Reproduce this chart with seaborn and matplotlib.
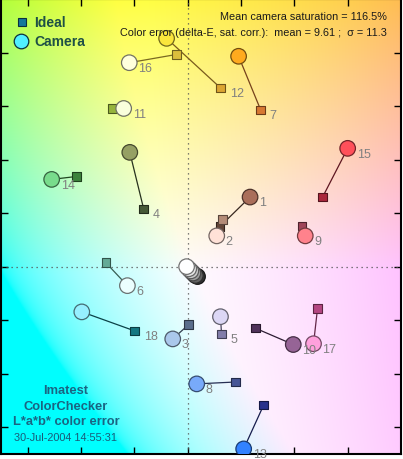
import numpy as np
import pandas as pd
import matplotlib
matplotlib.use("Agg")
import matplotlib.pyplot as plt
import seaborn as sns

# ColorChecker patches 1..24, a*/b* values
patches = [str(i) for i in range(1, 25)]
cam_a = [23.4, 10.9, -5.6, -21.7, 12.3, -22.6, 19.1, 3.4, 44.1, 39.6, -24.0, -7.9,
         21.0, -51.0, 60.0, -21.9, 47.2, -39.7, -0.4, 0.4, 1.2, 2.0, 2.9, 3.7]
cam_b = [26.0, 11.5, -27.0, 42.7, -18.7, -7.1, 78.6, -43.8, 11.5, -29.1, 59.1, 85.3,
         -68.1, 32.6, 44.2, 76.2, -28.8, -16.9, 0.0, -0.8, -1.6, -2.4, -3.3, -3.7]
ideal_a = [12.1, 13.1, 0.3, -16.5, 12.7, -30.7, 27.4, 18.0, 42.9, 25.4, -28.1, 12.4,
           28.5, -41.6, 50.6, -4.1, 48.7, -19.9, 0.0, 0.0, 0.0, 0.0, 0.0, 0.0]
ideal_b = [15.0, 17.7, -21.7, 21.6, -25.1, 1.5, 58.5, -43.1, 15.2, -23.0, 59.0, 66.7,
           -51.7, 33.7, 26.0, 79.3, -15.6, -24.0, 0.0, 0.0, 0.0, 0.0, 0.0, 0.0]
cam_colors = ['#aa6e5a', '#ffe1d7', '#aac8eb', '#96a064', '#dcd7f5', '#ebffff',
              '#ffaa1e', '#78aafa', '#ff828c', '#966496', '#faffdc', '#fae63c',
              '#3282ff', '#78dc8c', '#ff505a', '#ffffdc', '#ffa0dc', '#96f0ff',
              '#ffffff', '#e6e6e6', '#c8c8c8', '#a0a0a0', '#646464', '#323232']
ideal_colors = ['#644638', '#b48c78', '#5a6e8c', '#465a37', '#827daa', '#64aa96',
                '#d77832', '#465596', '#a0465a', '#50325a', '#96b43c', '#dca532',
                '#28328c', '#3c823c', '#aa283c', '#dcbe3c', '#b44682', '#147882',
                '#f3f3f2', '#c8c8c8', '#a0a0a0', '#7a7a79', '#555555', '#343434']
# which marker carries the number label: camera, ideal or none
label_at = ['c', 'c', 'c', 'i', 'i', 'c', 'i', 'c', 'c', 'c', 'c', 'i',
            'c', 'c', 'c', 'c', 'c', 'i', '', '', '', '', '', '']

title_lines = ["Mean camera saturation = 116.5%",
               "Color error (delta-E, sat. corr.):  mean = 9.61 ;  \u03c3 = 11.3"]
stamp_lines = ["Imatest", "ColorChecker", "L*a*b* color error"]
stamp_date = "30-Jul-2004 14:55:31"

xlim = (-70, 80)
ylim = (-70, 100)

sns.set_style("white")
plt.rcParams['font.family'] = ['Liberation Sans', 'DejaVu Sans']


def darken(hexcol, f):
    rgb = np.array(matplotlib.colors.to_rgb(hexcol))
    return tuple(rgb * f)


def lab_background(L, k, n=300):
    a = np.linspace(xlim[0], xlim[1], n) * k
    b = np.linspace(ylim[0], ylim[1], n) * k
    A, B = np.meshgrid(a, b)
    fy = (L + 16) / 116
    fx = fy + A / 500
    fz = fy - B / 200

    def finv(t):
        return np.where(t > 6 / 29, t ** 3, 3 * (6 / 29) ** 2 * (t - 4 / 29))
    X = 0.9505 * finv(fx)
    Y = finv(np.full_like(A, fy))
    Z = 1.089 * finv(fz)
    R = 3.2406 * X - 1.5372 * Y - 0.4986 * Z
    G = -0.9689 * X + 1.8758 * Y + 0.0415 * Z
    Bl = 0.0557 * X - 0.2040 * Y + 1.0570 * Z
    rgb = np.clip(np.dstack([R, G, Bl]), 0, 1)
    rgb = np.where(rgb <= 0.0031308, 12.92 * rgb, 1.055 * rgb ** (1 / 2.4) - 0.055)
    return np.clip(rgb, 0, 1)


df = pd.DataFrame({'patch': patches, 'cam_a': cam_a, 'cam_b': cam_b,
                   'ideal_a': ideal_a, 'ideal_b': ideal_b})

fig = plt.figure(figsize=(4.03, 4.6), dpi=100)
ax = fig.add_axes([1 / 403, 5 / 460, 400 / 403, 455 / 460])

ax.imshow(lab_background(98.5, 0.85), extent=[xlim[0], xlim[1], ylim[0], ylim[1]],
          origin='lower', aspect='auto', zorder=0, interpolation='bilinear')

ax.axvline(0, color='#555555', ls=(0, (1, 3)), lw=0.9, zorder=1)
ax.axhline(0, color='#555555', ls=(0, (1, 3)), lw=0.9, zorder=1)

for i, row in df.iterrows():
    ax.plot([row.cam_a, row.ideal_a], [row.cam_b, row.ideal_b],
            color=darken(ideal_colors[i], 0.55), lw=0.9, zorder=2)

sns.scatterplot(data=df, x='ideal_a', y='ideal_b', hue='patch',
                palette=dict(zip(patches, ideal_colors)), marker='s', s=38,
                edgecolor=[darken(c, 0.5) for c in ideal_colors], linewidth=0.8,
                legend=False, ax=ax, zorder=3)
sns.scatterplot(data=df[::-1], x='cam_a', y='cam_b', hue='patch',
                palette=dict(zip(patches, cam_colors)), marker='o', s=125,
                edgecolor=[darken(c, 0.45) for c in cam_colors[::-1]], linewidth=0.9,
                legend=False, ax=ax, zorder=4)

for i, row in df.iterrows():
    if label_at[i] == 'c':
        xy = (row.cam_a, row.cam_b)
    elif label_at[i] == 'i':
        xy = (row.ideal_a, row.ideal_b)
    else:
        continue
    ax.annotate(row.patch, xy, xytext=(6.5, -3.8), textcoords='offset points',
                ha='left', va='center', fontsize=9, color='#808080', zorder=5,
                annotation_clip=False)

# legend
ax.plot([20.7 / 400], [1 - 22.7 / 455], marker='s', ms=6, color='#14789a',
        mec='#0a3040', mew=0.8, transform=ax.transAxes, zorder=6)
ax.plot([20 / 400], [1 - 41.7 / 455], marker='o', ms=10.5, color='#50f0ff',
        mec='#0a3040', mew=0.9, transform=ax.transAxes, zorder=6)
ax.text(33 / 400, 1 - 22.7 / 455, "Ideal", transform=ax.transAxes, fontsize=10,
        fontweight='bold', color='#1e5046', ha='left', va='center', zorder=6)
ax.text(33 / 400, 1 - 41.7 / 455, "Camera", transform=ax.transAxes, fontsize=10,
        fontweight='bold', color='#1e5046', ha='left', va='center', zorder=6)

for j, line in enumerate(title_lines):
    ax.text(386 / 400, 1 - (16.7 + 16.6 * j) / 455, line, transform=ax.transAxes,
            fontsize=7.8, color='#1a1a1a', ha='right', va='center', zorder=6)

for j, line in enumerate(stamp_lines):
    ax.text(65 / 400, 1 - (390.7 + 15.8 * j) / 455, line, transform=ax.transAxes,
            fontsize=9.3, fontweight='bold', color='#1a6482', ha='center',
            va='center', zorder=6)
ax.text(13 / 400, 1 - 438.3 / 455, stamp_date, transform=ax.transAxes,
        fontsize=7.8, color='#1a5a78', ha='left', va='center', zorder=6)

ax.set_xlim(xlim)
ax.set_ylim(ylim)
ax.set_xticks(np.arange(-60, 80, 20))
ax.set_yticks(np.arange(-60, 100, 20))
ax.tick_params(direction='in', length=5, width=1, top=True, right=True,
               bottom=True, left=True, labelbottom=False, labelleft=False,
               color='black')
for sp in ax.spines.values():
    sp.set_visible(True)
    sp.set_color('black')
    sp.set_linewidth(1.5)
ax.set_xlabel('')
ax.set_ylabel('')

fig.savefig('out.png', dpi=100)
